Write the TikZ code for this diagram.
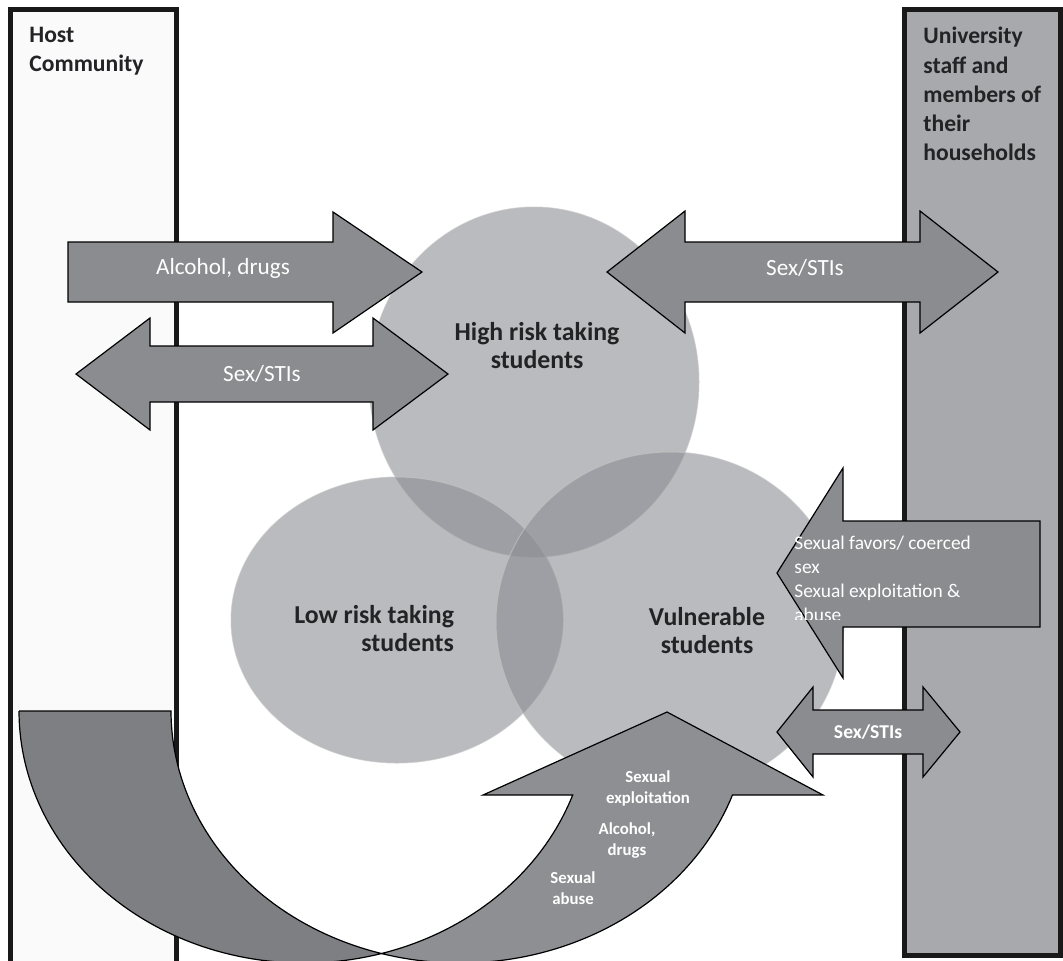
\documentclass[tikz,border=0pt]{standalone}
\usepackage{fontspec}
\setmainfont{Carlito}
\definecolor{hostbg}{RGB}{250,250,250}
\definecolor{staffbg}{RGB}{168,169,172}
\definecolor{arrowgray}{RGB}{139,140,144}
\definecolor{backgray}{RGB}{126,127,131}
\definecolor{frontgray}{RGB}{142,143,147}
\definecolor{bubblegray}{RGB}{140,141,146}
\definecolor{labelink}{RGB}{35,35,38}
\begin{document}
\begin{tikzpicture}[x=.5pt, y=-.5pt,
	box/.style={draw=black!90, line width=2.5pt},
	bubble/.style={fill=bubblegray, fill opacity=.6, draw=white!55!gray, draw opacity=.6, line width=.5pt},
	blockarrow/.style={fill=arrowgray, draw=black, line width=.6pt},
	boxlabel/.style={font=\bfseries\fontsize{11.8}{14.6}\selectfont, text=labelink, align=left, anchor=north west, inner sep=0pt},
	bubblelabel/.style={font=\bfseries\fontsize{12.9}{14}\selectfont, text=labelink},
	flowlabel/.style={font=\fontsize{11.6}{14}\selectfont, text=white},
	smallflow/.style={font=\bfseries\fontsize{8.4}{10.5}\selectfont, text=white, align=center}]
	\useasboundingbox (0,0) rectangle (1063,960);
	% the two groups on either side
	\draw[box, fill=hostbg] (10,9) rectangle (176,990);
	\draw[box, fill=staffbg] (904,9) rectangle (1060,955);
	\node[boxlabel] (host) at (29,27) {Host\\Community};
	\node[boxlabel] (staff) at (923,27) {University\\staff and\\members of\\their\\households};
	% student groups
	\path[bubble] (534,382) ellipse [x radius=82.5pt, y radius=87.5pt];
	\path[bubble] (397,620) ellipse [x radius=83pt, y radius=71.5pt];
	\path[bubble] (670,622) ellipse [x radius=87pt, y radius=85pt];
	\node[bubblelabel, align=center] (high) at (537,346) {High risk taking\\students};
	\node[bubblelabel, align=right, anchor=east] (low) at (461,629) {Low risk taking\\students};
	\node[bubblelabel, align=center] (vuln) at (707,631) {Vulnerable\\students};
	% single arrows
	\draw[blockarrow] (68,242) -- (333,242) -- (333,212) -- (422,272) -- (333,333) -- (333,302) -- (68,302) -- cycle;
	\draw[blockarrow] (777,573) -- (843,468) -- (843,521) -- (1040,521) -- (1040,627) -- (843,627) -- (843,678) -- cycle;
	% double arrows: left tip / left base / right base / right tip / mid / shaft / head
	\foreach \a/\b/\c/\d/\y/\s/\h in {76/150/373/448/374/28/56, 607/685/920/998/272/30/61, 777/813/923/960/732/22/45}
		\draw[blockarrow] (\a,\y) -- (\b,\y-\h) -- (\b,\y-\s) -- (\c,\y-\s) -- (\c,\y-\h) -- (\d,\y)
			-- (\c,\y+\h) -- (\c,\y+\s) -- (\b,\y+\s) -- (\b,\y+\h) -- cycle;
	% curved arrow, front part up to the head
	\draw[blockarrow, fill=frontgray]
		plot[domain=74.23:19.47, samples=40] ({304+285*cos(\x)},{711+252*sin(\x)})
		-- (483,795) -- (667,712) -- (823,795)
		-- plot[domain=19.47:105.77, samples=60] ({460+289*cos(\x)},{711+252*sin(\x)}) -- cycle;
	% curved arrow, back part coming from the host community
	\draw[blockarrow, fill=backgray] (19,711) -- (171,711)
		-- plot[domain=180:105.77, samples=50] ({460+289*cos(\x)},{711+252*sin(\x)})
		-- plot[domain=74.23:180, samples=70] ({304+285*cos(\x)},{711+252*sin(\x)}) -- cycle;
	% arrow labels
	\node[flowlabel] (alcohol) at (223,268) {Alcohol, drugs};
	\node[flowlabel] (sexhost) at (262,374) {Sex/STIs};
	\node[flowlabel] (sexstaff) at (805,268) {Sex/STIs};
	\node[flowlabel, font=\bfseries\fontsize{9.8}{12}\selectfont] (sexvuln) at (868,732) {Sex/STIs};
	\begin{scope}
		\clip (777,460) rectangle (1040,619);
		\node[flowlabel, font=\fontsize{9.7}{12}\selectfont, align=left, anchor=north west, inner sep=0pt] (favors) at (794,536)
			{Sexual favors/ coerced\\sex\\Sexual exploitation \&\\abuse};
	\end{scope}
	\node[smallflow] (exploit) at (648,788) {Sexual\\exploitation};
	\begin{scope}
		\clip (560,800) rectangle (700,857);
		\node[smallflow] (drugs) at (627,841) {Alcohol,\\drugs};
	\end{scope}
	\node[smallflow] (abuse) at (573,888) {Sexual\\abuse};
\end{tikzpicture}
\end{document}
